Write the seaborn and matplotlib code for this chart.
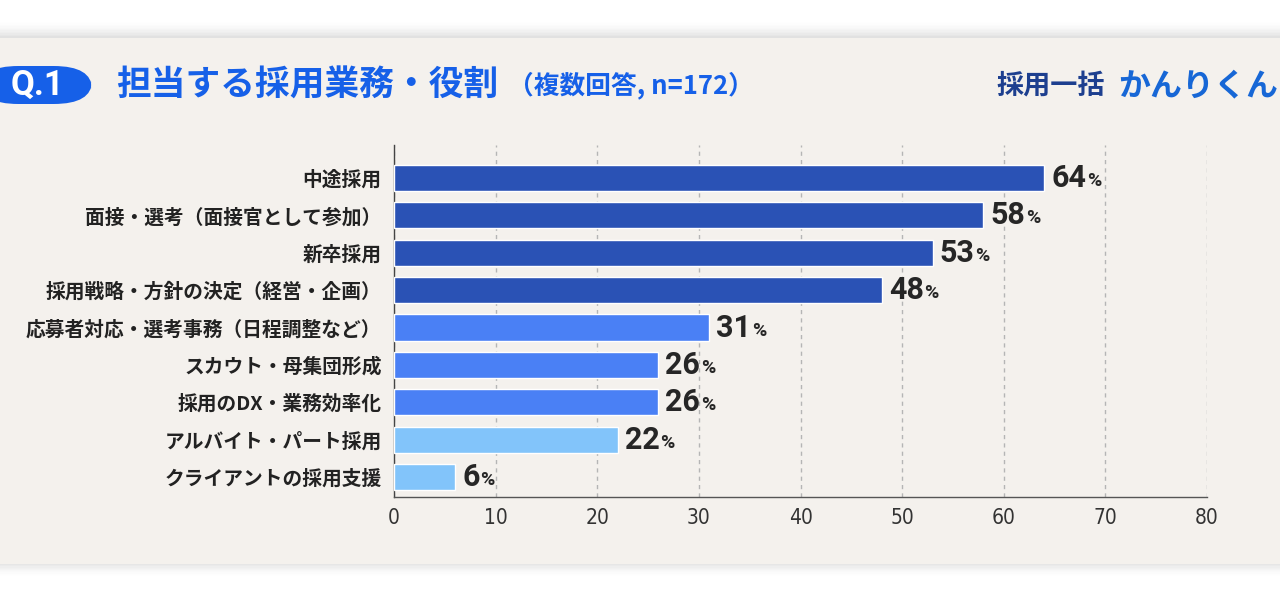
import pandas as pd
import matplotlib.pyplot as plt
import matplotlib.patches as mpatches
import seaborn as sns

# datos del grafico
categorias = ['中途採用', '面接・選考（面接官として参加）', '新卒採用',
              '採用戦略・方針の決定（経営・企画）', '応募者対応・選考事務（日程調整など）',
              'スカウト・母集団形成', '採用のDX・業務効率化', 'アルバイト・パート採用',
              'クライアントの採用支援']
porcentajes = [64, 58, 53, 48, 31, 26, 26, 22, 6]
grupos = ['a', 'a', 'a', 'a', 'b', 'b', 'b', 'c', 'c']
x_ticks = [0, 10, 20, 30, 40, 50, 60, 70, 80]

colores = {'a': '#2a52b5', 'b': '#4a80f5', 'c': '#82c4fa'}
fondo = '#f4f1ed'
azul_titulo = '#1660e8'

df = pd.DataFrame({'cat': categorias, 'pct': porcentajes, 'grupo': grupos})

sns.set_style('white')
plt.rcParams['font.family'] = ['Noto Sans CJK JP', 'DejaVu Sans']

fig = plt.figure(figsize=(12.8, 6), dpi=100)
fig.patch.set_facecolor('white')

# tarjeta de fondo con sombra
H = 600.0
for i in range(12):
    a = 0.018 * (12 - i) / 12
    fig.patches.append(mpatches.Rectangle((0, (36 - i * 1.2) / H), 1, (564 - 36 + i * 2.6) / H,
                                          transform=fig.transFigure, facecolor='#000000',
                                          alpha=a, edgecolor='none', zorder=-3))
fig.patches.append(mpatches.Rectangle((0, 1 - 564 / H), 1, (564 - 38) / H,
                                      transform=fig.transFigure, facecolor=fondo,
                                      edgecolor='none', zorder=-2))

ax = fig.add_axes([394 / 1280, 1 - 497 / 600, (1207 - 394) / 1280, (497 - 145) / 600])
ax.set_facecolor('none')

sns.barplot(data=df, x='pct', y='cat', hue='grupo', palette=colores, dodge=False,
            legend=False, width=0.7, ax=ax, saturation=1, zorder=3)

ax.set_xlim(0, 80)
ax.set_ylim(8.53, -0.88)
ax.set_xticks(x_ticks)
ax.set_xlabel('')
ax.set_ylabel('')

ax.grid(axis='x', color='#b5b5b5', linestyle=(0, (3, 3)), linewidth=1, zorder=0)
ax.grid(axis='y', visible=False)
for s in ['top', 'right']:
    ax.spines[s].set_visible(False)
ax.spines['left'].set_color('#444444')
ax.spines['bottom'].set_color('#555555')
ax.spines['left'].set_linewidth(1)
ax.spines['bottom'].set_linewidth(1)

ax.tick_params(axis='x', direction='in', length=6, width=1, color='#555555', pad=8,
               labelsize=15, labelcolor='#333333')
ax.tick_params(axis='y', length=0, pad=9)
for lbl in ax.get_xticklabels():
    lbl.set_fontfamily(['DejaVu Sans'])
    lbl.set_fontstretch('condensed')
for lbl in ax.get_yticklabels():
    lbl.set_fontsize(14.2)
    lbl.set_fontweight('bold')
    lbl.set_color('#222222')

# etiquetas de valores
for i, v in enumerate(porcentajes):
    t = ax.text(v + 0.7, i, str(v), ha='left', va='center', fontsize=22,
                fontweight='bold', color='#262626', family=['Roboto', 'DejaVu Sans'])
    ax.annotate('%', xy=(1, 0.1), xycoords=t, xytext=(0.5, 0), textcoords='offset points',
                ha='left', va='bottom', fontsize=14, fontweight='bold', color='#262626',
                family=['Roboto', 'DejaVu Sans'])

# titulo
badge = mpatches.FancyBboxPatch((-20 / 1280, 1 - 104 / H), 112 / 1280, 38 / H,
                                boxstyle='round,pad=0,rounding_size=0.03',
                                transform=fig.transFigure, facecolor=azul_titulo,
                                edgecolor='none', mutation_aspect=1280 / 600 * 0.6)
fig.patches.append(badge)
fig.text(38 / 1280, 1 - 85 / H, 'Q.1', ha='center', va='center', color='white',
         fontsize=25, fontweight='bold', family=['Roboto', 'DejaVu Sans'])
tt = fig.text(116 / 1280, 1 - 85 / H, '担当する採用業務・役割', ha='left', va='center',
              color=azul_titulo, fontsize=25, fontweight='bold')
fig.text(508 / 1280, 1 - 85 / H, '（複数回答, n=172）', ha='left', va='center',
         color=azul_titulo, fontsize=18.5, fontweight='bold')

# logo
fig.text(996 / 1280, 1 - 86 / H, '採用一括', ha='left', va='center', color='#1d3f8f',
         fontsize=19.5, fontweight='bold')
fig.text(1278 / 1280, 1 - 86 / H, 'かんりくん', ha='right', va='center', color='#1767d6',
         fontsize=23, fontweight='bold')

fig.savefig('out.png', dpi=100, facecolor=fig.get_facecolor())
